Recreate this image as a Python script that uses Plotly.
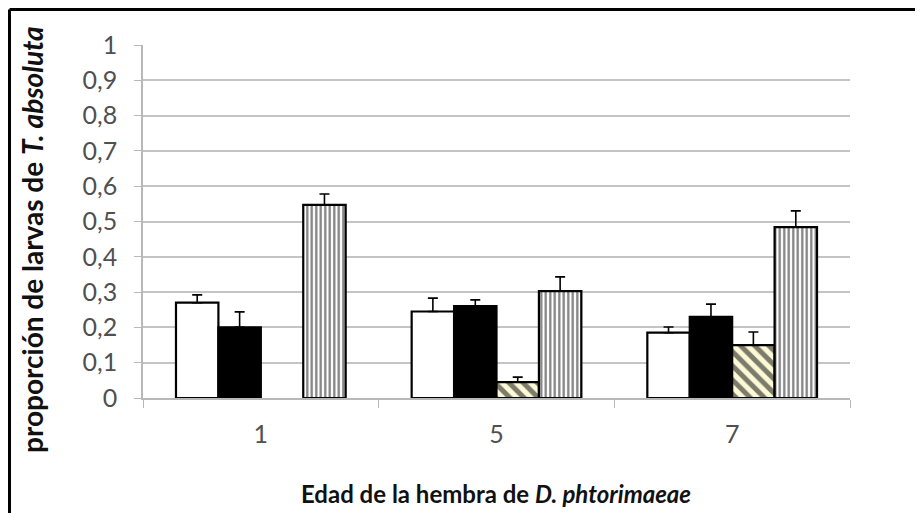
import plotly.graph_objects as go

# data
edades = ["1", "5", "7"]
blanco = [0.27, 0.245, 0.185]
blanco_err = [0.022, 0.038, 0.016]
negro = [0.20, 0.26, 0.23]
negro_err = [0.044, 0.018, 0.036]
diagonal = [None, 0.045, 0.15]
diagonal_err = [0, 0.014, 0.037]
vertical = [0.547, 0.303, 0.484]
vertical_err = [0.031, 0.04, 0.046]

y_ticks = [0, 0.1, 0.2, 0.3, 0.4, 0.5, 0.6, 0.7, 0.8, 0.9, 1]

# the page body has an 8px margin, so the figure is drawn 8px in from the window edge
OFF = 8
W, H = 923 - OFF, 513 - OFF
L, R, T, B = 143 - OFF, W - (850 - OFF), 45 - OFF, H - (398 - OFF)


def px_x(x):
    # page pixel -> paper coordinate
    return (x - OFF - L) / (W - L - R)


def px_y(y):
    return (H - B - (y - OFF)) / (H - T - B)


def err(vals):
    return dict(type="data", symmetric=False, array=vals, arrayminus=[0] * len(vals),
                color="black", thickness=1.6, width=5)


fig = go.Figure()
fig.add_bar(x=edades, y=blanco, name="a", error_y=err(blanco_err),
            marker=dict(color="white", line=dict(color="black", width=2.2)))
fig.add_bar(x=edades, y=negro, name="b", error_y=err(negro_err),
            marker=dict(color="black", line=dict(color="black", width=2.2)))
fig.add_bar(x=edades, y=diagonal, name="c", error_y=err(diagonal_err),
            marker=dict(color="#fbf9d6", line=dict(color="black", width=2.2),
                        pattern=dict(shape="\\", fgcolor="black", bgcolor="#fbf9d6",
                                     size=10, solidity=0.5, fillmode="overlay")))
fig.add_bar(x=edades, y=vertical, name="d", error_y=err(vertical_err),
            marker=dict(color="white", line=dict(color="black", width=2.2),
                        pattern=dict(shape="|", fgcolor="black", bgcolor="white",
                                     size=4.5, solidity=0.5, fillmode="overlay")))

tick_font = dict(family="Lato, sans-serif", size=25, color="#505050")

fig.update_layout(
    width=W, height=H,
    margin=dict(l=L, r=R, t=T, b=B),
    paper_bgcolor="white", plot_bgcolor="white",
    barmode="group", bargap=0.28, bargroupgap=0,
    showlegend=False,
    separators=",.",
    xaxis=dict(type="category", showgrid=False, showline=True, linecolor="#b8b8b8", linewidth=1.5,
               ticks="outside", tickson="boundaries", ticklen=8, tickcolor="#b8b8b8",
               tickfont=tick_font, ticklabelstandoff=13),
    yaxis=dict(range=[0, 1], tickvals=y_ticks, showgrid=True, gridcolor="#c4c4c4", gridwidth=2,
               showline=True, linecolor="#b8b8b8", linewidth=1.5, zeroline=False,
               ticks="outside", ticklen=7, tickcolor="#b8b8b8",
               tickfont=tick_font, ticklabelstandoff=12),
    annotations=[
        dict(text="<b>Edad de la hembra de <i>D. phtorimaeae</i></b>", xref="paper", yref="paper",
             x=px_x(496), y=px_y(493), showarrow=False,
             font=dict(family="Lato, sans-serif", size=24, color="#111111"),
             xanchor="center", yanchor="middle"),
        dict(text="<b>proporción de larvas de <i>T. absoluta</i></b>", xref="paper", yref="paper",
             x=px_x(32), y=px_y(240), showarrow=False, textangle=-90,
             font=dict(family="Lato, sans-serif", size=28, color="#111111"),
             xanchor="center", yanchor="middle"),
    ],
    shapes=[
        dict(type="line", xref="paper", yref="paper", x0=px_x(9.5), x1=px_x(9.5),
             y0=px_y(9.5), y1=px_y(H + OFF), line=dict(color="black", width=3)),
        dict(type="line", xref="paper", yref="paper", x0=px_x(9.5), x1=px_x(W + OFF),
             y0=px_y(9.5), y1=px_y(9.5), line=dict(color="black", width=3)),
    ],
)

fig.write_html("out.html")
